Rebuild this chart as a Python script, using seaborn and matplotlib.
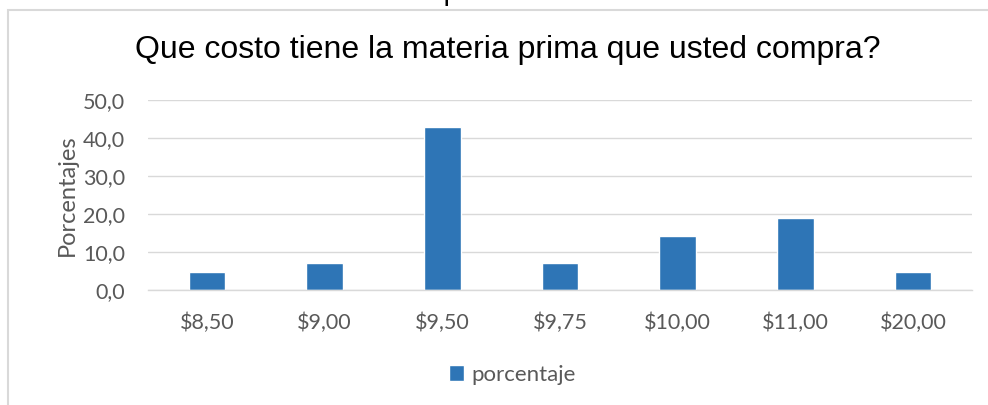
import matplotlib
matplotlib.use("Agg")
import matplotlib.pyplot as plt
import seaborn as sns
import pandas as pd
from matplotlib.patches import Rectangle

categories = ["$8,50", "$9,00", "$9,50", "$9,75", "$10,00", "$11,00", "$20,00"]
porcentaje = [4.8, 7.1, 42.9, 7.1, 14.3, 19.0, 4.8]
yticks = [0, 10, 20, 30, 40, 50]
ytick_labels = ["0,0", "10,0", "20,0", "30,0", "40,0", "50,0"]

title = "Que costo tiene la materia prima que usted compra?"
ylabel = "Porcentajes"
series_name = "porcentaje"
top_text = "Gráfica N° 7 Costo de la materia prima"

sns.set_theme(style="white")
plt.rcParams["font.family"] = ["Lato", "DejaVu Sans"]

df = pd.DataFrame({"cat": categories, "val": porcentaje, "serie": series_name})

fig = plt.figure(figsize=(9.88, 4.05), dpi=100)
W, H = 988, 405
ax = fig.add_axes([148 / W, 1 - 290 / H, (972 - 148) / W, (290 - 100) / H])

# outer chart frame
fig.patches.append(Rectangle((8 / W, -0.1), 1.1, 1 - 10 / H + 0.1, transform=fig.transFigure,
                             fill=False, edgecolor="#d9d9d9", linewidth=1.5, zorder=0))
# caption above the chart, mostly cut off by the image edge (as in the reference)
fig.text(15 / W, 1 - 0.4 / H, top_text, fontsize=21, family=["Liberation Sans", "DejaVu Sans"],
         color="black", va="baseline", ha="left")

sns.barplot(data=df, x="cat", y="val", hue="serie", palette=["#2e75b6"], width=0.31,
            ax=ax, saturation=1, legend=True)

ax.set_ylim(0, 50)
ax.set_yticks(yticks)
ax.set_yticklabels(ytick_labels)
ax.yaxis.grid(True, color="#d9d9d9", linewidth=1)
ax.set_axisbelow(True)
for s in ["top", "right", "left"]:
    ax.spines[s].set_visible(False)
ax.spines["bottom"].set_color("#d9d9d9")
ax.spines["bottom"].set_linewidth(1)
ax.tick_params(axis="both", length=0, labelsize=15.5, colors="#595959")
ax.tick_params(axis="x", pad=16)
ax.tick_params(axis="y", pad=16.5)
ax.set_xlabel("")
ax.set_ylabel(ylabel, fontsize=17, color="#595959", labelpad=4)

fig.text(508 / W, 1 - 58 / H, title, fontsize=23, family=["Liberation Sans", "DejaVu Sans"],
         color="black", ha="center", va="baseline")

leg = ax.legend(loc="center", bbox_to_anchor=(512 / W, 1 - 375 / H), bbox_transform=fig.transFigure,
                frameon=False, fontsize=16, handlelength=0.7, handleheight=0.7, handletextpad=0.3)
for t in leg.get_texts():
    t.set_color("#595959")

fig.savefig("out.png", dpi=100)
